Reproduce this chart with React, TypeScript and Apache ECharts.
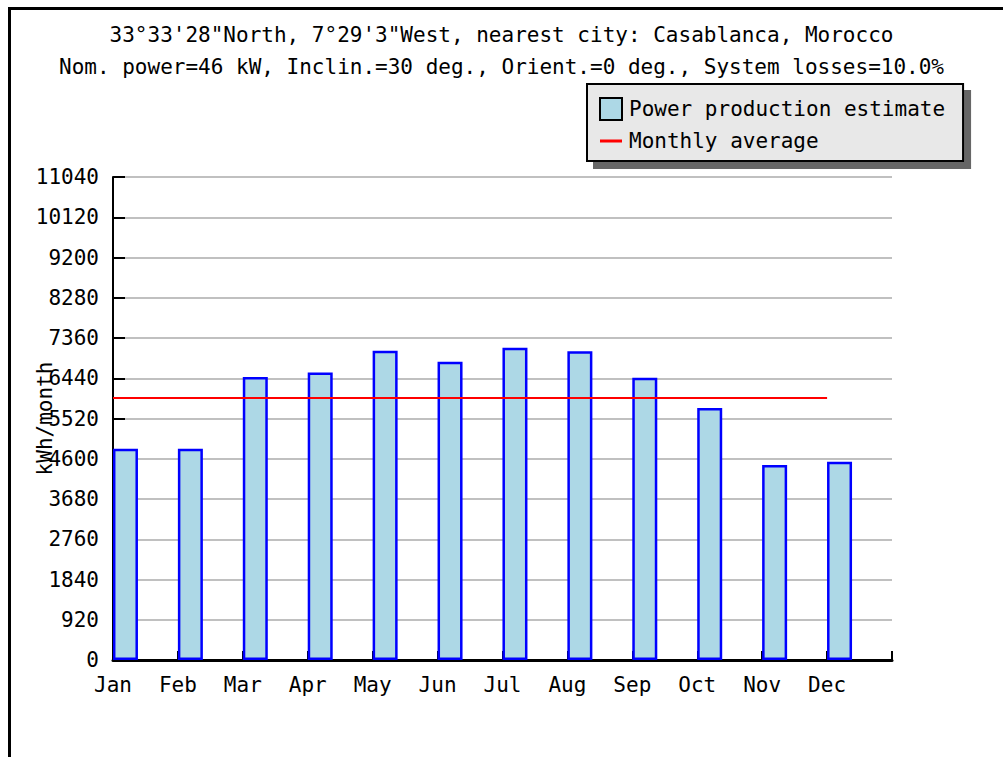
import React, { useEffect, useRef } from "react";
import * as echarts from "echarts";

const months = ["Jan", "Feb", "Mar", "Apr", "May", "Jun", "Jul", "Aug", "Sep", "Oct", "Nov", "Dec"];
const production = [4830, 4830, 6470, 6570, 7070, 6820, 7140, 7060, 6450, 5760, 4460, 4530];
const monthlyAverage = 5990;
const yMin = 0;
const yMax = 11040;
const yInterval = 920;
const titleLines = [
  "33°33'28\"North, 7°29'3\"West, nearest city: Casablanca, Morocco",
  "Nom. power=46 kW, Inclin.=30 deg., Orient.=0 deg., System losses=10.0%",
];
const yAxisName = "kWh/month";
const barName = "Power production estimate";
const lineName = "Monthly average";

const FONT = "DejaVu Sans Mono";

export default function App() {
  const ref = useRef<HTMLDivElement>(null);

  useEffect(() => {
    if (!ref.current) return;
    const chart = echarts.init(ref.current, undefined, { renderer: "svg" });
    const lineCats = [...months, ""];
    chart.setOption({
      animation: false,
      backgroundColor: "#ffffff",
      title: {
        text: titleLines.join("\n"),
        left: "center",
        top: 14,
        textStyle: {
          fontFamily: FONT,
          fontSize: 21,
          fontWeight: "normal",
          color: "#000",
          lineHeight: 32,
        },
      },
      legend: {
        orient: "vertical",
        left: 587,
        top: 84,
        padding: [13, 18, 9, 12],
        itemGap: 9,
        itemWidth: 22,
        itemHeight: 22,
        backgroundColor: "#e8e8e8",
        borderColor: "#000",
        borderWidth: 2,
        borderRadius: 0,
        shadowColor: "#666666",
        shadowBlur: 0,
        shadowOffsetX: 7,
        shadowOffsetY: 7,
        selectedMode: false,
        textStyle: { fontFamily: FONT, fontSize: 21, color: "#000", padding: [0, 0, 0, 2] },
        data: [
          { name: barName, icon: "rect", itemStyle: { color: "#add8e6", borderColor: "#000", borderWidth: 2 } },
          {
            name: lineName,
            icon: "path://M0,0 M0,9.5 L22,9.5 L22,12.5 L0,12.5 Z M22,22",
            itemStyle: { color: "#ff0000", borderWidth: 0 },
          },
        ],
      },
      grid: { left: 113, top: 177, right: 111, bottom: 97, containLabel: false, outerBoundsMode: "none" },
      xAxis: [
        {
          type: "category",
          data: months,
          boundaryGap: true,
          axisLine: { show: true, lineStyle: { color: "#000", width: 3 } },
          axisTick: { show: true, inside: true, length: 9, lineStyle: { color: "#000", width: 2 } },
          axisLabel: { show: false },
          splitLine: { show: false },
        },
        {
          type: "category",
          data: lineCats,
          boundaryGap: false,
          position: "bottom",
          axisLine: { show: false },
          axisTick: { show: false },
          axisLabel: {
            show: true,
            interval: 0,
            margin: 14,
            fontFamily: FONT,
            fontSize: 21,
            color: "#000",
          },
          splitLine: { show: false },
        },
      ],
      yAxis: {
        type: "value",
        min: yMin,
        max: yMax,
        interval: yInterval,
        name: yAxisName,
        nameLocation: "middle",
        nameRotate: 90,
        nameGap: 58,
        nameMoveOverlap: false,
        nameTextStyle: { fontFamily: FONT, fontSize: 21, color: "#000" },
        axisLine: { show: true, lineStyle: { color: "#000", width: 2 } },
        axisTick: { show: true, inside: true, length: 12, lineStyle: { color: "#000", width: 2 } },
        axisLabel: {
          margin: 14,
          fontFamily: FONT,
          fontSize: 21,
          color: "#000",
          formatter: (v: number) => String(v),
        },
        splitLine: { show: true, lineStyle: { color: "#c0c0c0", width: 2 } },
      },
      series: [
        {
          name: barName,
          type: "bar",
          xAxisIndex: 0,
          data: production,
          barWidth: 25,
          barGap: "0%",
          itemStyle: { color: "#add8e6", borderColor: "#0000ff", borderWidth: 2.5 },
          z: 2,
        },
        {
          name: "spacer",
          type: "bar",
          xAxisIndex: 0,
          data: months.map(() => "-"),
          barWidth: 40,
          barGap: "0%",
          silent: true,
          itemStyle: { color: "transparent" },
        },
        {
          name: lineName,
          type: "line",
          xAxisIndex: 1,
          data: months.map(() => monthlyAverage),
          symbol: "none",
          lineStyle: { color: "#ff0000", width: 2 },
          itemStyle: { color: "#ff0000" },
          z: 5,
        },
      ],
      graphic: [
        { type: "rect", shape: { x: 8, y: 7, width: 995, height: 3 }, style: { fill: "#000" } },
        { type: "rect", shape: { x: 8, y: 7, width: 3, height: 750 }, style: { fill: "#000" } },
      ],
    });
    return () => chart.dispose();
  }, []);

  return (
    <div
      ref={ref}
      style={{ position: "absolute", left: 0, top: 0, width: 1003, height: 757 }}
    />
  );
}
